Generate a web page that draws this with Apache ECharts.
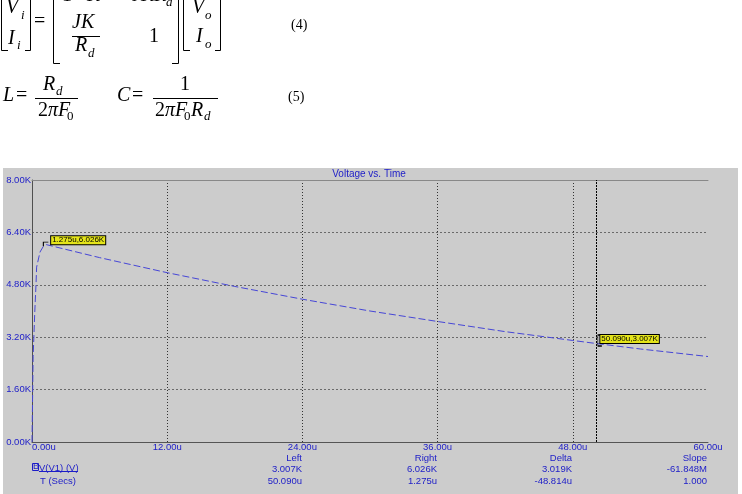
<!DOCTYPE html>
<html><head><meta charset="utf-8">
<script src="https://cdn.jsdelivr.net/npm/echarts@6/dist/echarts.min.js"></script>
<style>html,body{margin:0;padding:0;background:#fff}#c{width:742px;height:494px}</style>
</head><body><div id="c"></div>
<script>
// ---- data ----
const timeUs = [0, 0.1, 0.25, 0.36, 0.41, 0.71, 1.0, 1.275, 6, 12, 18, 24, 30, 36, 42, 48, 50.09, 54, 60];
const voltK  = [0, 2.6, 4.0, 4.85, 5.34, 5.80, 5.97, 6.026, 5.63, 5.17, 4.75, 4.36, 4.00, 3.68, 3.37, 3.10, 3.007, 2.84, 2.61];
const xTickValues = [0, 12, 24, 36, 48, 60];
const xTickLabels = ['0.00u', '12.00u', '24.00u', '36.00u', '48.00u', '60.00u'];
const yTickValues = [0, 1.6, 3.2, 4.8, 6.4, 8.0];
const yTickLabels = ['0.00K', '1.60K', '3.20K', '4.80K', '6.40K', '8.00K'];
const cursorTimes = [1.275, 50.09];
const cursorVolts = [6.026, 3.007];
const cursorTexts = ['1.275u,6.026K', '50.090u,3.007K'];
const tableHeaders = ['Left', 'Right', 'Delta', 'Slope'];
const tableVRow = ['3.007K', '6.026K', '3.019K', '-61.848M'];
const tableTRow = ['50.090u', '1.275u', '-48.814u', '1.000'];
const chartTitle = 'Voltage vs. Time';

const BLUE = '#1c1cc8';
const SANS = '"Liberation Sans", Arial, sans-serif';
const SERIF = '"Liberation Serif", "Times New Roman", serif';

function T(text, x, y, size, italic, opts) {
  opts = opts || {};
  return {
    type: 'text', x: x, y: y, z: 10,
    style: {
      text: text,
      font: (italic ? 'italic ' : '') + size + 'px ' + (opts.family || SERIF),
      fill: opts.fill || '#000',
      textAlign: opts.align || 'left', align: opts.align || 'left',
      textVerticalAlign: 'middle', verticalAlign: 'middle'
    }
  };
}
function L(points, color) {
  return { type: 'polyline', z: 10, shape: { points: points }, style: { stroke: color || '#000', lineWidth: 1, fill: null } };
}

const eq = [
  // equation (4)
  L([[1.5,0],[1.5,50.5],[8,50.5]]), L([[30.5,0],[30.5,50.5],[25,50.5]]),
  T('V', 6, 8, 20, true), T('i', 21, 16, 13, true),
  T('I', 8, 39, 20, true), T('i', 17, 46, 13, true),
  T('=', 34, 22, 20, false),
  L([[53.5,0],[53.5,63.5],[60,63.5]]),
  T('1 − ', 62, -4, 20, false), T('K', 87, -4, 20, true),
  T('JKR', 132, -4, 20, true), T('d', 166, 3, 13, true),
  T('JK', 72, 23, 20, true), L([[72,36.5],[100,36.5]]),
  T('R', 75, 46, 20, true), T('d', 88, 54, 13, true),
  T('1', 149, 37, 20, false),
  L([[178.5,0],[178.5,63.5],[172,63.5]]),
  L([[183.5,0],[183.5,50.5],[190,50.5]]), L([[220.5,0],[220.5,50.5],[215,50.5]]),
  T('V', 192, 8, 20, true), T('o', 205, 16, 13, true),
  T('I', 196, 37, 20, true), T('o', 205, 45, 13, true),
  T('(4)', 291, 25, 14, false),
  // equation (5)
  T('L', 3, 96, 20, true), T('=', 16, 96, 20, false),
  T('R', 43, 85, 20, true), T('d', 56, 92, 13, true),
  L([[35,98.5],[78,98.5]]),
  T('2', 38, 111, 20, false), T('πF', 48, 111, 20, true), T('0', 67, 117, 13, false),
  T('C', 117, 96, 20, true), T('=', 132, 96, 20, false),
  T('1', 180, 85, 20, false),
  L([[153,98.5],[218,98.5]]),
  T('2', 155, 111, 20, false), T('πF', 165, 111, 20, true), T('0', 184, 117, 13, false),
  T('R', 191, 111, 20, true), T('d', 204, 117, 13, true),
  T('(5)', 288, 97, 14, false)
];

// bottom cursor table
const colRight = [302, 437, 572, 707];
const table = [];
tableHeaders.forEach((h, i) => {
  table.push(T(h, colRight[i], 458, 9.5, false, {family: SANS, fill: BLUE, align: 'right'}));
  table.push(T(tableVRow[i], colRight[i], 469, 9.5, false, {family: SANS, fill: BLUE, align: 'right'}));
  table.push(T(tableTRow[i], colRight[i], 481, 9.5, false, {family: SANS, fill: BLUE, align: 'right'}));
});
table.push({ type: 'rect', z: 10, shape: { x: 32.5, y: 463.5, width: 6, height: 7 }, style: { fill: null, stroke: BLUE, lineWidth: 1 } });
table.push(T('B', 33, 467, 9, false, {family: SANS, fill: BLUE}));
table.push(T('V(V1) (V)', 39, 468, 9.5, false, {family: SANS, fill: BLUE}));
table.push(L([[39, 471.5], [78, 471.5]], BLUE));
table.push(T('T (Secs)', 40, 481, 9.5, false, {family: SANS, fill: BLUE}));

const panel = { type: 'rect', z: -100, shape: { x: 3, y: 168, width: 735, height: 326 }, style: { fill: '#cccccc' }, silent: true };

const chart = echarts.init(document.getElementById('c'), null, { renderer: 'canvas' });
chart.setOption({
  animation: false,
  backgroundColor: '#ffffff',
  title: {
    text: chartTitle, left: 369, top: 169, textAlign: 'center', padding: 0,
    textStyle: { color: BLUE, fontSize: 10, fontWeight: 'normal', fontFamily: SANS }
  },
  grid: { left: 32, right: 34, top: 180, bottom: 52, containLabel: false },
  xAxis: [{
    type: 'value', min: 0, max: 60, interval: 12,
    axisLine: { show: true, onZero: false, lineStyle: { color: '#555555', width: 1 } },
    axisTick: { show: false },
    axisLabel: {
      color: BLUE, fontSize: 9.5, fontFamily: SANS, margin: 0, alignMinLabel: 'left',
      formatter: v => { const i = xTickValues.findIndex(t => Math.abs(t - v) < 1e-6); return i >= 0 ? xTickLabels[i] : ''; }
    },
    splitLine: { show: true, showMinLine: false, showMaxLine: false, lineStyle: { color: '#333333', type: [1, 2], width: 1 } }
  }, {
    type: 'value', min: 0, max: 60, position: 'top',
    axisLine: { show: true, onZero: false, lineStyle: { color: '#888888', width: 1 } },
    axisTick: { show: false }, axisLabel: { show: false }, splitLine: { show: false }
  }],
  yAxis: {
    type: 'value', min: 0, max: 8, interval: 1.6,
    axisLine: { show: true, onZero: false, lineStyle: { color: '#505050', width: 1 } },
    axisTick: { show: false },
    axisLabel: {
      color: BLUE, fontSize: 9.5, fontFamily: SANS, margin: 1,
      formatter: v => { const i = yTickValues.findIndex(t => Math.abs(t - v) < 1e-6); return i >= 0 ? yTickLabels[i] : ''; }
    },
    splitLine: { show: true, showMinLine: false, showMaxLine: false, lineStyle: { color: '#6a6a6a', type: [2, 2], width: 1 } }
  },
  series: [{
    type: 'line', xAxisIndex: 0,
    data: timeUs.map((t, i) => [t, voltK[i]]),
    showSymbol: false, symbol: 'none', silent: true,
    lineStyle: { color: '#4646d6', width: 1, type: [7, 3] },
    markLine: {
      silent: true, symbol: 'none', animation: false,
      label: { show: false },
      lineStyle: { color: '#000000', type: [2, 1], width: 1 },
      data: [{ xAxis: cursorTimes[1] }]
    },
    markPoint: {
      silent: true, animation: false,
      data: [
        { name: cursorTexts[0], coord: [cursorTimes[0], cursorVolts[0]],
          symbol: 'path://M0,4 L0,0 L5,0', symbolSize: [5, 4], symbolOffset: [-0.5, -0.5],
          label: { offset: [-1, -4] } },
        { name: cursorTexts[1], coord: [cursorTimes[1], cursorVolts[1]],
          symbol: 'path://M4,0 L0,0 L0,11 L4,11', symbolSize: [4, 11], symbolOffset: [3.5, -3],
          label: { offset: [-4, -1.5] } }
      ],
      itemStyle: { color: 'none', borderColor: '#000', borderWidth: 1 },
      label: {
        show: true, position: 'right', distance: 1, formatter: p => p.name,
        backgroundColor: '#e4e41a', borderColor: '#000', borderWidth: 1,
        padding: [0, 1, 0, 1], color: '#000', fontSize: 8, lineHeight: 8, fontFamily: SANS
      }
    }
  }],
  graphic: { elements: [panel].concat(eq, table) }
});
</script></body></html>
